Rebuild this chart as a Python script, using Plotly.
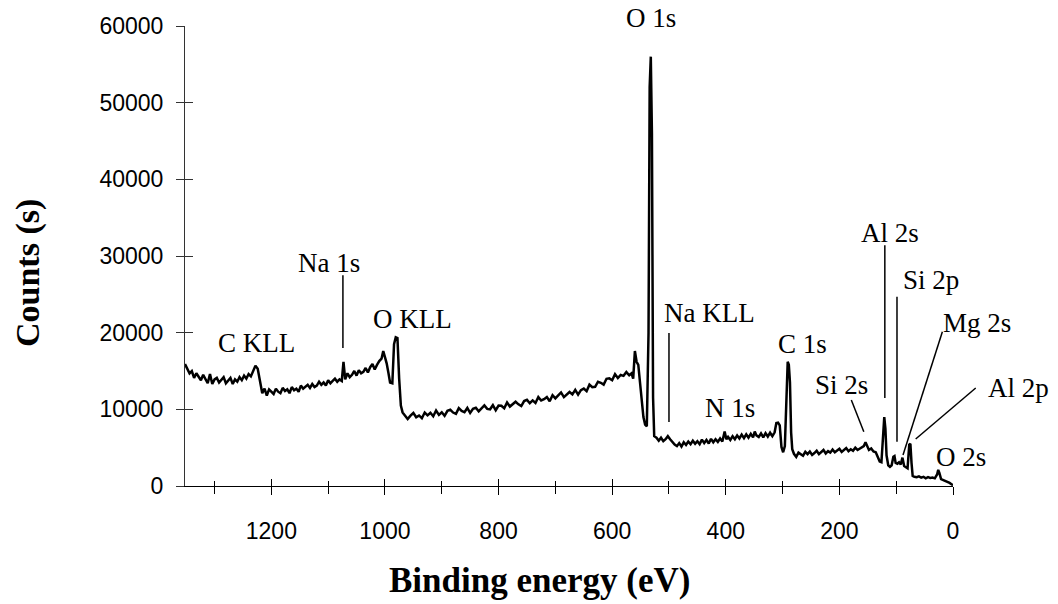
import plotly.graph_objects as go

# XPS survey spectrum: binding energy (eV) vs counts
binding_energy = [
    1352, 1348, 1344, 1340, 1336, 1332, 1328, 1324, 1320, 1316, 1312, 1308, 1304, 1300, 1296, 1292,
    1288, 1284, 1280, 1276, 1272, 1268, 1264, 1260, 1256, 1252, 1248, 1244, 1240, 1236, 1232, 1228,
    1224, 1220, 1216, 1212, 1208, 1204, 1200, 1196, 1192, 1188,
    1184, 1180, 1176, 1172, 1168, 1164, 1160, 1156, 1152, 1148,
    1144, 1140, 1136, 1132, 1128, 1124, 1120, 1116, 1112, 1108,
    1104, 1100, 1096, 1092, 1088, 1084, 1080, 1076,
    1073, 1070, 1066, 1062, 1058, 1054, 1050, 1046, 1042, 1038,
    1034, 1030, 1026, 1022, 1018, 1014, 1010, 1006,
    1003, 1000, 997, 994, 991, 987, 984, 981, 978, 975, 972, 969,
    965, 960, 955, 950, 945, 940, 935, 930, 925, 920,
    915, 910, 905, 900, 895, 890, 885, 880, 875, 870,
    865, 860, 855, 850, 845, 840, 835, 830, 825, 820,
    815, 810, 805, 800, 795, 790, 785, 780, 775, 770,
    765, 760, 755, 750, 745, 740, 735, 730, 725, 720,
    715, 710, 705, 700, 695, 690, 685, 680, 675, 670,
    665, 660, 655, 650, 645, 640, 635, 630, 625, 620,
    615, 610, 605, 600, 595, 590, 585, 580, 575, 570,
    566, 563, 560, 557, 554, 551, 548, 545, 542, 539,
    536, 534, 532, 530, 528, 526,
    522, 518, 514, 510, 506, 502, 498, 494, 490, 486,
    482, 478, 474, 470, 466, 462, 458, 454, 450, 446,
    442, 438, 434, 430, 426, 422, 418, 414, 410, 406,
    402, 399, 396, 392, 388, 384, 380, 376, 372, 368,
    364, 360, 356, 352, 349, 346, 342, 338, 334, 330,
    326, 322, 318, 314, 311, 308, 305,
    302, 299, 296, 293, 291, 289, 287, 285, 283,
    280, 276, 272, 268, 264, 260, 256, 252, 248, 244,
    240, 236, 232, 228, 224, 220, 216, 212, 208, 204,
    200, 196, 192, 188, 184, 180, 176, 172, 168, 164, 160,
    157, 154, 151, 148, 144, 140, 136, 132, 129, 126,
    123, 121, 119, 117, 114, 111, 108, 105, 103, 101,
    98, 95, 92, 89, 86, 83, 80, 77, 75, 73,
    71, 68, 64, 60, 56, 52, 48, 44, 40, 36,
    32, 28, 26, 24, 21, 18, 14, 10, 6, 2, 0,
]

counts = [
    15900, 15200, 14700, 15000, 14100, 14700, 14300, 13800, 14500, 14000, 13400, 14600, 13300, 13900, 14100, 13500,
    13800, 14200, 13400, 13700, 14100, 13300, 13900, 13600, 14200, 13800, 14400, 14000, 14600, 14300, 14900, 15700,
    15300, 13500, 12100, 12700, 11800, 12600, 12300, 12000, 12700, 12300,
    12100, 12800, 12400, 12600, 12100, 12900, 12500, 12700, 12300, 13100,
    12700, 12900, 13200, 12800, 13300, 12900, 13100, 13600, 13200, 13500,
    13100, 13800, 13400, 13700, 14000, 13600, 13900, 13700,
    16200, 13900, 14700, 14200, 14500, 15000, 14400, 15100, 14700, 14900,
    15400, 14800, 15500, 15900, 15200, 15800, 16300, 16600,
    17600, 16800, 16000, 14800, 13500, 13400, 18500, 19400, 19300, 14000, 10500, 9600,
    9200, 8740, 9180, 9520, 8960, 9200, 8840, 9580, 9220, 9560,
    9100, 9840, 9280, 9620, 9160, 9800, 9940, 9580, 9420, 10160,
    9800, 9640, 10180, 9520, 10060, 10200, 9740, 10080, 10520, 10060,
    10000, 10540, 9880, 10500, 10460, 10130, 10890, 10360, 10620, 10990,
    10650, 10420, 11080, 11240, 10800, 11170, 10830, 11600, 11160, 11320,
    11590, 11050, 11840, 11420, 11810, 12200, 11590, 11870, 12260, 11950,
    12540, 11920, 12510, 12700, 12360, 13220, 12880, 12940, 13600, 13460,
    13220, 13980, 14040, 13800, 14590, 14080, 14480, 14370, 14860, 14450,
    14700, 14000, 17600, 16200, 15800, 13500, 11500, 9000, 8000, 7800,
    20000, 52000, 56000, 46000, 11500, 6500,
    6300, 5900, 6300, 5850, 6100, 6500, 6100, 5700, 5400, 5200,
    5600, 5150, 5700, 5350, 5800, 5450, 5900, 5500, 5850, 5450,
    6050, 5600, 6000, 5550, 6150, 5700, 6100, 5750, 6200, 5800,
    7100, 6100, 6400, 6000, 6500, 6100, 6600, 6200, 6700, 6250,
    6750, 6300, 6800, 6350, 7100, 6600, 6400, 6850, 6350, 6900,
    6450, 6950, 6500, 7000, 8200, 8250, 7900,
    5100, 4400, 5200, 13000, 16200, 15800, 13500, 7000, 4800,
    4200, 3800, 4350, 4100, 3950, 4450, 4150, 4500, 4050, 4300,
    4600, 4150, 4400, 4700, 4250, 4550, 4350, 4750, 4400, 4600,
    4850, 4450, 4700, 4950, 4550, 4800, 4600, 5000, 4700, 4900, 5050,
    5200, 5700, 5100, 4700, 4900, 4500, 4400, 3800, 3200, 3100,
    6500, 9000, 7500, 4000, 2700, 2500, 2700, 3800, 3900, 3000,
    2900, 3100, 2800, 3700, 2600, 2400, 2300, 5400, 5500, 3000,
    1300, 1200, 1150, 1250, 1100, 1200, 1000, 1150, 1050, 1100,
    1000, 1500, 2100, 1700, 900, 800, 700, 600, 400, 200, 100,
]
assert len(binding_energy) == len(counts)

# Peak labels and label centres (eV, counts)
peak_labels = ["O 1s", "Na 1s", "C KLL", "O KLL", "Na KLL", "N 1s", "C 1s",
               "Si 2s", "Al 2s", "Si 2p", "Mg 2s", "Al 2p", "O 2s"]
label_energy = [532, 1099, 1227, 952, 428, 393, 265, 197, 111, 39, -43, -116, -14]
label_counts = [61100, 29100, 18600, 21800, 22600, 10200, 18500, 13200, 33000, 26900, 21300, 12800, 3800]

# Leader lines: (start eV, start counts, end eV, end counts)
leader_lines = [
    (1074, 27500, 1074, 18000),   # Na 1s
    (500, 19950, 500, 8340),      # Na KLL
    (179, 11210, 157, 7080),      # Si 2s
    (120, 31400, 120, 11470),     # Al 2s
    (98.6, 24680, 98.6, 5780),    # Si 2p
    (18.7, 20120, 88, 4040),      # Mg 2s
    (-40, 12780, 65.7, 6130),     # Al 2p
]

X_RANGE = [1352, 0]
Y_RANGE = [0, 60000]
y_ticks = [0, 10000, 20000, 30000, 40000, 50000, 60000]
x_major = [1200, 1000, 800, 600, 400, 200, 0]
x_minor = [1300, 1100, 900, 700, 500, 300, 100]

W, H = 1058, 604
M_L, M_R, M_T, M_B = 185, 105, 26, 118
PLOT_W = W - M_L - M_R
PLOT_H = H - M_T - M_B


def to_paper(e, c):
    px = (X_RANGE[0] - e) / (X_RANGE[0] - X_RANGE[1])
    py = (c - Y_RANGE[0]) / (Y_RANGE[1] - Y_RANGE[0])
    return px, py


def pixel_to_paper(px, py):
    return (px - M_L) / PLOT_W, (H - M_B - py) / PLOT_H


fig = go.Figure()
fig.add_trace(go.Scatter(
    x=binding_energy, y=counts, mode="lines",
    line=dict(color="black", width=2.5),
    showlegend=False, hoverinfo="skip",
))
# empty trace carrying the inner half of the crossing tick marks
fig.add_trace(go.Scatter(x=[], y=[], xaxis="x2", yaxis="y2", showlegend=False))

tick_font = dict(family="Liberation Sans, Arial", size=23, color="black")

fig.update_layout(
    width=W, height=H,
    margin=dict(l=M_L, r=M_R, t=M_T, b=M_B),
    paper_bgcolor="white", plot_bgcolor="white",
    xaxis=dict(
        range=X_RANGE, showgrid=False, zeroline=False,
        showline=True, linecolor="black", linewidth=1,
        tickvals=x_major, ticks="outside", ticklen=8, tickcolor="black", tickwidth=1,
        minor=dict(tickvals=x_minor, ticks="outside", ticklen=7, tickcolor="black", tickwidth=1),
        tickfont=tick_font, ticklabelstandoff=16,
    ),
    yaxis=dict(
        range=Y_RANGE, showgrid=False, zeroline=False,
        showline=True, linecolor="#333", linewidth=1,
        tickvals=y_ticks, tickformat="d",
        ticks="outside", ticklen=8, tickcolor="#333", tickwidth=1,
        tickfont=tick_font, ticklabelstandoff=8,
    ),
    xaxis2=dict(
        range=X_RANGE, overlaying="x", anchor="y2", showgrid=False, zeroline=False,
        showline=False, showticklabels=False,
        tickvals=x_major, ticks="inside", ticklen=7, tickcolor="black", tickwidth=1,
        minor=dict(tickvals=x_minor, ticks="inside", ticklen=5, tickcolor="black", tickwidth=1),
    ),
    yaxis2=dict(
        range=Y_RANGE, overlaying="y", anchor="x2", side="left", showgrid=False,
        zeroline=False, showline=False, showticklabels=False,
        tickvals=y_ticks, ticks="inside", ticklen=8, tickcolor="#333", tickwidth=1,
    ),
)

# axis titles
tx, ty = pixel_to_paper(539, 580)
fig.add_annotation(x=tx, y=ty, xref="paper", yref="paper", text="<b>Binding energy (eV)</b>",
                   showarrow=False, xanchor="center", yanchor="middle",
                   font=dict(family="Liberation Serif, Times New Roman", size=35, color="black"))
tx, ty = pixel_to_paper(28, 273)
fig.add_annotation(x=tx, y=ty, xref="paper", yref="paper", text="<b>Counts (s)</b>",
                   showarrow=False, xanchor="center", yanchor="middle", textangle=-90,
                   font=dict(family="Liberation Serif, Times New Roman", size=34, color="black"))

label_font = dict(family="Liberation Serif, Times New Roman", size=27, color="black")
for text, e, c in zip(peak_labels, label_energy, label_counts):
    px, py = to_paper(e, c)
    fig.add_annotation(x=px, y=py, xref="paper", yref="paper", text=text, showarrow=False,
                       xanchor="center", yanchor="middle", font=label_font)

for e0, c0, e1, c1 in leader_lines:
    x0, y0 = to_paper(e0, c0)
    x1, y1 = to_paper(e1, c1)
    fig.add_shape(type="line", xref="paper", yref="paper", x0=x0, y0=y0, x1=x1, y1=y1,
                  line=dict(color="black", width=1.5))

fig.write_html("out.html")
